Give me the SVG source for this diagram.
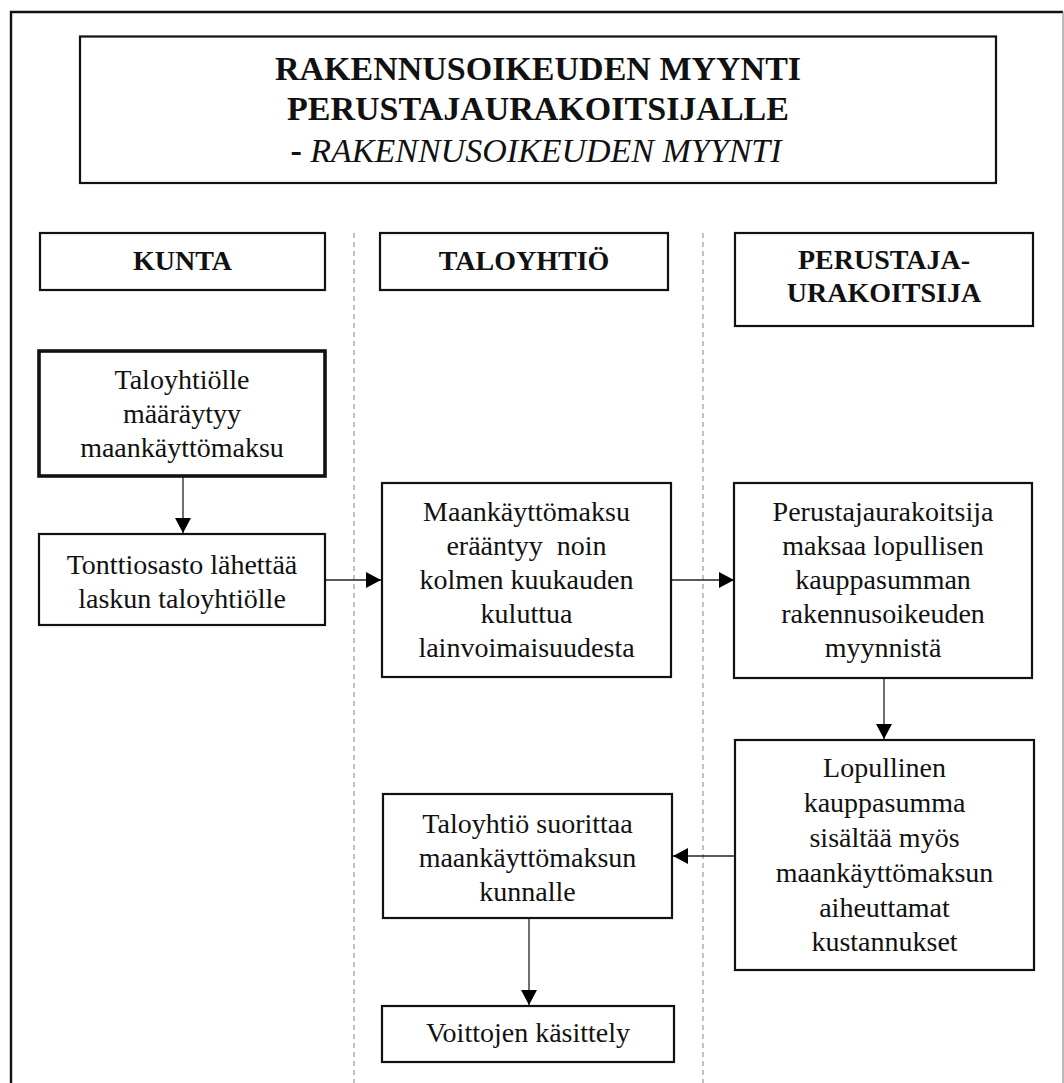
<svg xmlns="http://www.w3.org/2000/svg" width="1064" height="1083" viewBox="0 0 1064 1083">
  <style>
    .box { fill: #ffffff; stroke: #111111; stroke-width: 2.2; }
    .box-strong { fill: #ffffff; stroke: #111111; stroke-width: 3.6; }
    .lane { stroke: #9a9a9a; stroke-width: 1.2; stroke-dasharray: 5 4; fill: none; }
    .link { stroke: #222222; stroke-width: 1.3; fill: none; marker-end: url(#arrow); }
    .title { font-family: "Liberation Serif", "Times New Roman", serif; font-size: 34px; font-weight: bold; fill: #111111; text-anchor: middle; }
    .subtitle { font-family: "Liberation Serif", "Times New Roman", serif; font-size: 34px; font-style: italic; fill: #111111; text-anchor: middle; }
    .head { font-family: "Liberation Serif", "Times New Roman", serif; font-size: 28px; font-weight: bold; fill: #111111; text-anchor: middle; }
    .body { font-family: "Liberation Serif", "Times New Roman", serif; font-size: 28px; fill: #111111; text-anchor: middle; white-space: pre; }
  </style>
  <defs>
    <marker id="arrow" markerUnits="userSpaceOnUse" markerWidth="16" markerHeight="17" refX="15" refY="8" orient="auto">
      <path d="M0,0 L15,8 L0,16 Z" fill="#000000"/>
    </marker>
  </defs>

  <rect width="1064" height="1083" fill="#ffffff"/>

  <!-- page frame -->
  <g id="frame">
    <path d="M11,1083 L11,12 L1063,12" fill="none" stroke="#111111" stroke-width="2.4"/>
    <line x1="1063" y1="12" x2="1063" y2="1083" stroke="#8a8a8a" stroke-width="1.2"/>
  </g>

  <!-- heading -->
  <g id="title">
    <rect class="box" x="80" y="36.5" width="916" height="146.5"/>
    <text class="title" x="538" y="80">RAKENNUSOIKEUDEN MYYNTI</text>
    <text class="title" x="538" y="120">PERUSTAJAURAKOITSIJALLE</text>
    <text class="subtitle" x="536" y="162"><tspan font-weight="bold" font-style="normal">- </tspan>RAKENNUSOIKEUDEN MYYNTI</text>
  </g>

  <!-- swimlane separators -->
  <g id="lanes">
    <line class="lane" x1="354" y1="233" x2="354" y2="1083"/>
    <line class="lane" x1="703" y1="233" x2="703" y2="1083"/>
  </g>

  <!-- lane headers -->
  <g id="head-kunta">
    <rect class="box" x="40" y="233" width="285" height="57"/>
    <text class="head" x="182.5" y="270">KUNTA</text>
  </g>
  <g id="head-taloyhtio">
    <rect class="box" x="380" y="233" width="288" height="57"/>
    <text class="head" x="524" y="270">TALOYHTIÖ</text>
  </g>
  <g id="head-perustaja">
    <rect class="box" x="735" y="233" width="298" height="93"/>
    <text class="head" x="884" y="269">PERUSTAJA-</text>
    <text class="head" x="884" y="302">URAKOITSIJA</text>
  </g>

  <!-- connectors -->
  <g id="connectors">
    <line class="link" x1="183" y1="476" x2="183" y2="533"/>
    <line class="link" x1="325" y1="580" x2="381" y2="580"/>
    <line class="link" x1="671" y1="580" x2="734" y2="580"/>
    <line class="link" x1="884" y1="678" x2="884" y2="739"/>
    <line class="link" x1="735" y1="856" x2="673" y2="856"/>
    <line class="link" x1="529" y1="918" x2="529" y2="1005"/>
  </g>

  <!-- process steps -->
  <g id="n1">
    <rect class="box-strong" x="39" y="351" width="286" height="125"/>
    <text class="body" x="182" y="389">Taloyhtiölle</text>
    <text class="body" x="182" y="423">määräytyy</text>
    <text class="body" x="182" y="457">maankäyttömaksu</text>
  </g>
  <g id="n2">
    <rect class="box" x="39" y="534" width="286" height="91"/>
    <text class="body" x="182" y="574">Tonttiosasto lähettää</text>
    <text class="body" x="182" y="608">laskun taloyhtiölle</text>
  </g>
  <g id="n3">
    <rect class="box" x="382" y="483" width="289" height="194"/>
    <text class="body" x="526.5" y="521">Maankäyttömaksu</text>
    <text class="body" x="526.5" y="555">erääntyy  noin</text>
    <text class="body" x="526.5" y="589">kolmen kuukauden</text>
    <text class="body" x="526.5" y="623">kuluttua</text>
    <text class="body" x="526.5" y="657">lainvoimaisuudesta</text>
  </g>
  <g id="n4">
    <rect class="box" x="734" y="483" width="298" height="195"/>
    <text class="body" x="883" y="521">Perustajaurakoitsija</text>
    <text class="body" x="883" y="555">maksaa lopullisen</text>
    <text class="body" x="883" y="589">kauppasumman</text>
    <text class="body" x="883" y="623">rakennusoikeuden</text>
    <text class="body" x="883" y="657">myynnistä</text>
  </g>
  <g id="n5">
    <rect class="box" x="735" y="740" width="299" height="230"/>
    <text class="body" x="884.5" y="777">Lopullinen</text>
    <text class="body" x="884.5" y="812">kauppasumma</text>
    <text class="body" x="884.5" y="847">sisältää myös</text>
    <text class="body" x="884.5" y="882">maankäyttömaksun</text>
    <text class="body" x="884.5" y="917">aiheuttamat</text>
    <text class="body" x="884.5" y="951">kustannukset</text>
  </g>
  <g id="n6">
    <rect class="box" x="383" y="794" width="289" height="124"/>
    <text class="body" x="527.5" y="833">Taloyhtiö suorittaa</text>
    <text class="body" x="527.5" y="867">maankäyttömaksun</text>
    <text class="body" x="527.5" y="901">kunnalle</text>
  </g>
  <g id="n7">
    <rect class="box" x="382" y="1006" width="292" height="56"/>
    <text class="body" x="528" y="1042">Voittojen käsittely</text>
  </g>
</svg>
